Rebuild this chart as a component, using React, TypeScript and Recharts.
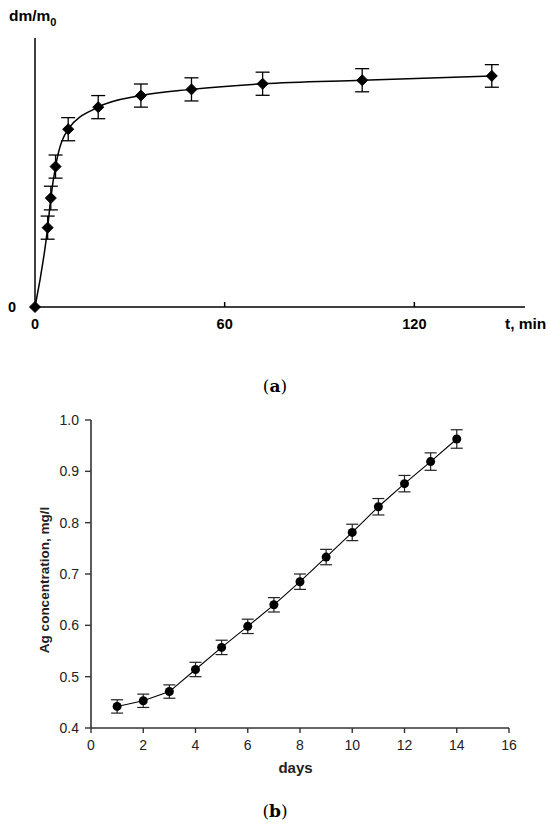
import React from "react";
import { LineChart, Line, XAxis, YAxis, ErrorBar } from "recharts";

// ---- Panel (a): relative mass gain vs time ----
const timeMin = [0, 4, 5, 6.5, 10.5, 20, 33.5, 49.5, 72, 103.5, 144.5];
const massGain = [0, 0.295, 0.405, 0.522, 0.661, 0.743, 0.786, 0.809, 0.83, 0.843, 0.859];
const massErr = [0, 0.043, 0.044, 0.043, 0.043, 0.043, 0.043, 0.043, 0.043, 0.043, 0.042];
const timeTicks = [0, 60, 120];

// ---- Panel (b): Ag concentration vs days ----
const days = [1, 2, 3, 4, 5, 6, 7, 8, 9, 10, 11, 12, 13, 14];
const agConc = [0.442, 0.453, 0.471, 0.514, 0.557, 0.598, 0.64, 0.685, 0.733, 0.781, 0.831, 0.876, 0.919, 0.963];
const agErr = [0.013, 0.013, 0.013, 0.014, 0.014, 0.014, 0.014, 0.015, 0.015, 0.016, 0.016, 0.016, 0.017, 0.018];
const dayTicks = [0, 2, 4, 6, 8, 10, 12, 14, 16];
const concTicks = [0.4, 0.5, 0.6, 0.7, 0.8, 0.9, 1.0];

const dataA = timeMin.map((t, i) => ({ t, v: massGain[i], e: massErr[i] }));
const dataB = days.map((d, i) => ({ d, v: agConc[i], e: agErr[i] }));

const SANS = "'Liberation Sans', Arial, sans-serif";
const SERIF = "'DejaVu Serif', 'Liberation Serif', serif";

const Diamond = (props: any) => {
  const { cx, cy, index } = props;
  if (cx == null || cy == null) return null;
  const r = 5.5;
  return (
    <path
      key={`dia-${index}`}
      d={`M${cx},${cy - r} L${cx + r},${cy} L${cx},${cy + r} L${cx - r},${cy} Z`}
      fill="#000"
      stroke="#000"
    />
  );
};

const UpTick = (props: any) => {
  const { x, y, payload } = props;
  return (
    <g>
      {payload.value !== 0 && <line x1={x} x2={x} y1={y} y2={y - 5} stroke="#000" strokeWidth={1.5} />}
      <text x={x} y={y + 22} textAnchor="middle" fontFamily={SANS} fontWeight="bold" fontSize={14.5} fill="#000">
        {payload.value}
      </text>
    </g>
  );
};

export default function App() {
  return (
    <div style={{ position: "absolute", left: 0, top: 0, width: 550, height: 827, background: "#fff" }}>
      <div style={{ position: "absolute", left: 0, top: 0 }}>
        <LineChart width={550} height={340} data={dataA} margin={{ top: 38, right: 25, bottom: 3, left: 0 }}>
          <XAxis
            type="number"
            dataKey="t"
            domain={[0, 155]}
            ticks={timeTicks}
            height={30}
            axisLine={{ stroke: "#000", strokeWidth: 1.5 }}
            tickLine={false}
            tickSize={0}
            tickMargin={0}
            tick={<UpTick />}
            interval={0}
          />
          <YAxis
            type="number"
            domain={[0, 1]}
            ticks={[0]}
            width={35}
            axisLine={{ stroke: "#000", strokeWidth: 1.5 }}
            tickLine={{ stroke: "#000", strokeWidth: 1.5 }}
            tickSize={5}
            tickMargin={14}
            tick={{ fontFamily: SANS, fontWeight: "bold", fontSize: 14.5, fill: "#000" }}
          />
          <Line
            type="monotone"
            dataKey="v"
            stroke="#000"
            strokeWidth={1.5}
            dot={<Diamond />}
            isAnimationActive={false}
          >
            <ErrorBar dataKey="e" width={7} stroke="#000" strokeWidth={1.3} direction="y" />
          </Line>
        </LineChart>
      </div>

      <div style={{ position: "absolute", left: 0, top: 400 }}>
        <LineChart width={550} height={390} data={dataB} margin={{ top: 20, right: 41, bottom: 22, left: 0 }}>
          <XAxis
            type="number"
            dataKey="d"
            domain={[0, 16]}
            ticks={dayTicks}
            interval={0}
            height={40}
            axisLine={{ stroke: "#333", strokeWidth: 1.6 }}
            tickLine={{ stroke: "#333", strokeWidth: 1.4 }}
            tickSize={5}
            tickMargin={7}
            tick={{ fontFamily: SANS, fontSize: 14, fill: "#222" }}
          />
          <YAxis
            type="number"
            domain={[0.4, 1.0]}
            ticks={concTicks}
            interval={0}
            width={91}
            axisLine={{ stroke: "#333", strokeWidth: 1.6 }}
            tickLine={{ stroke: "#333", strokeWidth: 1.4 }}
            tickSize={6}
            tickMargin={6}
            tickFormatter={(v: number) => v.toFixed(1)}
            tick={{ fontFamily: SANS, fontSize: 14, fill: "#222" }}
          />
          <Line
            type="linear"
            dataKey="v"
            stroke="#000"
            strokeWidth={1.1}
            dot={{ r: 4.5, fill: "#000", stroke: "#000", strokeWidth: 0 }}
            isAnimationActive={false}
          >
            <ErrorBar dataKey="e" width={6} stroke="#222" strokeWidth={1.2} direction="y" />
          </Line>
        </LineChart>
      </div>

      <svg width={550} height={827} style={{ position: "absolute", left: 0, top: 0, pointerEvents: "none" }}>
        <text x={9} y={21} fontFamily={SANS} fontWeight="bold" fontSize={15.5} fill="#000">
          dm/m<tspan fontSize={11} dy={5}>0</tspan>
        </text>
        <text x={505} y={329} fontFamily={SANS} fontWeight="bold" fontSize={15.5} fill="#000">
          t, min
        </text>
        <text x={275} y={392} textAnchor="middle" fontFamily={SERIF} fontSize={17} fill="#000">
          (<tspan fontWeight="bold">a</tspan>)
        </text>
        <text
          x={0}
          y={0}
          transform="translate(49,580) rotate(-90)"
          textAnchor="middle"
          fontFamily={SANS}
          fontWeight="bold"
          fontSize={13.5}
          fill="#222"
        >
          Ag concentration, mg/l
        </text>
        <text x={295.5} y={773} textAnchor="middle" fontFamily={SANS} fontWeight="bold" fontSize={15} fill="#222">
          days
        </text>
        <text x={275} y={817} textAnchor="middle" fontFamily={SERIF} fontSize={17} fill="#000">
          (<tspan fontWeight="bold">b</tspan>)
        </text>
      </svg>
    </div>
  );
}
